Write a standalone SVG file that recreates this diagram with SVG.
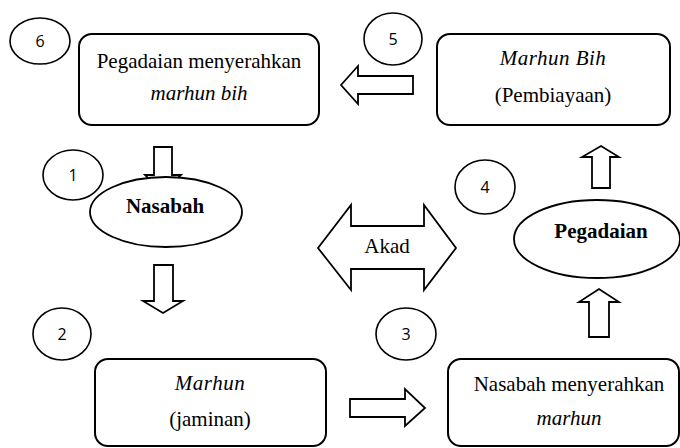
<svg xmlns="http://www.w3.org/2000/svg" width="680" height="448" viewBox="0 0 680 448">
<style>
.box{fill:#fff;stroke:#000;stroke-width:2}
.ell{fill:#fff;stroke:#000;stroke-width:1.8}
.num{fill:none;stroke:#000;stroke-width:1.6}
.arr{fill:#fff;stroke:#000;stroke-width:1.8;stroke-linejoin:miter}
text.t{font-family:'Liberation Serif',serif;font-size:21px;fill:#000;text-anchor:middle}
text.i{font-style:italic}
text.b{font-weight:bold}
text.n{font-family:'Open Sans',sans-serif;font-size:16px;fill:#000;text-anchor:middle}
</style>
<rect width="680" height="448" fill="#fff"/>
<g id="connectors">
<polygon class="arr" points="341,85 358,66 358,76 413,76 413,94 358,94 358,104"/>
<polygon class="arr" points="154,147 172,147 172,175 181,175 163,193 145,175 154,175"/>
<polygon class="arr" points="154,265 173,265 173,301 183,301 163,313 143,301 154,301"/>
<polygon class="arr" points="350,399 405,399 405,389 425,408 405,426 405,417 350,417"/>
<polygon class="arr" points="589,337 609,337 609,302 619,302 599,289 579,302 589,302"/>
<polygon class="arr" points="592,188 610,188 610,157 619,157 601,146 582,157 592,157"/>
</g>
<g id="n6"><ellipse class="num" cx="40" cy="41" rx="30" ry="23"/><text class="n" x="40" y="47">6</text></g>
<g id="n5"><ellipse class="num" cx="393" cy="39" rx="29" ry="26"/><text class="n" x="393" y="45">5</text></g>
<g id="n1"><ellipse class="num" cx="73" cy="175" rx="30" ry="25"/><text class="n" x="73" y="181">1</text></g>
<g id="n4"><ellipse class="num" cx="485" cy="187" rx="30" ry="27"/><text class="n" x="485" y="193">4</text></g>
<g id="n2"><ellipse class="num" cx="62" cy="334" rx="29" ry="26"/><text class="n" x="62" y="340">2</text></g>
<g id="n3"><ellipse class="num" cx="406" cy="334" rx="30" ry="26"/><text class="n" x="406" y="340">3</text></g>
<g id="box-pegadaian-menyerahkan">
<rect class="box" x="79" y="34" width="240" height="91" rx="13"/>
<text class="t" x="199" y="68">Pegadaian menyerahkan</text>
<text class="t i" x="199" y="100">marhun bih</text>
</g>
<g id="box-marhun-bih">
<rect class="box" x="437" y="34" width="233" height="91" rx="13"/>
<text class="t i" x="553" y="65" letter-spacing="0.5">Marhun Bih</text>
<text class="t" x="553" y="102">(Pembiayaan)</text>
</g>
<g id="nasabah">
<ellipse class="ell" cx="166" cy="212" rx="76" ry="35"/>
<text class="t b" x="165" y="213">Nasabah</text>
</g>
<g id="akad">
<polygon class="arr" points="318,248 351,205 351,226 424,226 424,205 456,248 424,290 424,269 351,269 351,290"/>
<text class="t" x="387" y="253">Akad</text>
</g>
<g id="pegadaian">
<ellipse class="ell" cx="597" cy="239" rx="83" ry="39"/>
<text class="t b" x="601" y="238">Pegadaian</text>
</g>
<g id="box-marhun">
<rect class="box" x="95" y="359" width="231" height="87" rx="13"/>
<text class="t i" x="210" y="390" letter-spacing="0.5">Marhun</text>
<text class="t" x="210" y="426">(jaminan)</text>
</g>
<g id="box-nasabah-menyerahkan">
<rect class="box" x="448" y="359" width="231" height="87" rx="13"/>
<text class="t" x="569" y="391">Nasabah menyerahkan</text>
<text class="t i" x="569" y="425">marhun</text>
</g>
</svg>
